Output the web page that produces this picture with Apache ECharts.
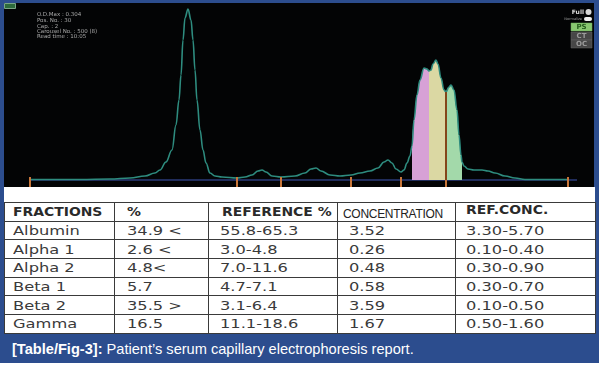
<!DOCTYPE html>
<html><head><meta charset="utf-8">
<script src="https://cdn.jsdelivr.net/npm/echarts@6/dist/echarts.min.js"></script>
<style>
html,body{margin:0;padding:0;background:#fff;}
#page{position:relative;width:599px;height:367px;overflow:hidden;background:#fff;}
#frame{position:absolute;left:0;top:0;width:599px;height:363px;background:#2c4d8e;}
#chart{position:absolute;left:4px;top:3px;width:590px;height:184px;background:#030405;}
#panel{position:absolute;left:4px;top:187px;width:591px;height:146px;background:#fff;}
#tbl{position:absolute;left:4px;top:202px;border-collapse:collapse;table-layout:fixed;width:591px;}
#tbl tr{height:18.7px;}
#tbl td{border:1.5px solid #3a3a3a;padding:0;height:16px;line-height:14px;vertical-align:middle;white-space:nowrap;overflow:hidden;color:#3a3a3a;}
#tbl td span{display:inline-block;transform-origin:0 50%;line-height:14px;}
#tbl tr.h td span{font:bold 12px 'DejaVu Sans',sans-serif;transform:scaleX(1.16);color:#2a2a2a;}
#tbl tr.h td span.cn{font:12px 'Liberation Sans',Arial,sans-serif;transform:none;color:#222;position:relative;top:2px;letter-spacing:-0.3px;}
#tbl tr.h td span.rc{position:relative;top:-2px;}
#tbl tr.d td span{font:13px 'DejaVu Sans',sans-serif;transform:scaleX(1.25);}
#caption{position:absolute;left:12px;top:341px;color:#fff;font:14.6px 'Liberation Sans',Arial,sans-serif;line-height:16px;white-space:nowrap;}
</style></head>
<body>
<div id="page">
  <div id="frame"></div>
  <div id="chart"></div>
  <div id="panel"></div>
  <table id="tbl"></table>
  <div id="caption"></div>
</div>
<script>
// ---- data ----
const headers = ['FRACTIONS','%','REFERENCE %','CONCENTRATION','REF.CONC.'];
const fractions = ['Albumin','Alpha 1','Alpha 2','Beta 1','Beta 2','Gamma'];
const percent = ['34.9 <','2.6 <','4.8<','5.7','35.5 >','16.5'];
const refPercent = ['55.8-65.3','3.0-4.8','7.0-11.6','4.7-7.1','3.1-6.4','11.1-18.6'];
const concentration = ['3.52','0.26','0.48','0.58','3.59','1.67'];
const refConc = ['3.30-5.70','0.10-0.40','0.30-0.90','0.30-0.70','0.10-0.50','0.50-1.60'];
const captionBold = '[Table/Fig-3]:';
const captionText = ' Patient\u2019s serum capillary electrophoresis report.';
const infoLines = ['O.D.Max : 0.304','Pos. No. : 30','Cap. : 2','Carousel No. : 500 (8)','Read time : 10:05'];

// electropherogram trace (scan position, relative absorbance)
const scanPos = [30,80,110,130,145,155,160,166,172,176,179,181,183,185,188,191,193,195,197,200,203,206,210,215,222,237,245,252,258,262,266,272,281,295,305,311,316,321,330,340,351,360,370,378,384,388,392,396,401,404,407,410,412,414,417,420,424,427,429,431,433,436,438,441,444,446,449,451,454,457,459,461,462,464,468,474,482,488,495,505,515,525,568];
const absorbance = [0.5,0.5,1,2,4,7,10,18,30,55,80,105,140,162,171,160,140,110,80,50,30,17,7,4,3,2,3,5,9,10,8,4,3,4,7,11,12,9,5,4,5,7,9,12,18,20,17,11,8,10,17,24,34,60,85,100,112,111,109,110,116,120,116,102,90,88,93,95,90,70,45,25,18,14,11,10,10,9,7,4,2,0.5,0.5];
// fraction delimiters (scan position) and their marker heights
const delimiters = [30,237,281,351,401,446,568];
const delimiterTop = [3,3,3,3,3,88,3];
// highlighted zones
const zoneRanges = [[412,429],[429,446],[446,462]];
const zoneColors = ['#d7a1d6','#dbd8a3','#a3d9aa'];
const baselineRange = [30,577];

// ---- table ----
const tbl = document.getElementById('tbl');
const colW = [110,94,129,118,140];
const padL = [8,12,13,5,10];
const padLD = [8,12,11,11,10];
let html = '<colgroup>' + colW.map(w=>'<col style="width:'+w+'px">').join('') + '</colgroup>';
html += '<tr class="h">' + headers.map((h,i)=>'<td style="padding-left:'+padL[i]+'px"><span'+(i===3?' class="cn"':(i===4?' class="rc"':''))+'>'+h+'</span></td>').join('') + '</tr>';
for (let r=0;r<fractions.length;r++){
  const row=[fractions[r],percent[r],refPercent[r],concentration[r],refConc[r]];
  html += '<tr class="d">' + row.map((v,i)=>'<td style="padding-left:'+padLD[i]+'px"><span>'+v.replace(/</g,'&lt;').replace(/>/g,'&gt;')+'</span></td>').join('') + '</tr>';
}
tbl.innerHTML = html;
document.getElementById('caption').innerHTML = '<b>'+captionBold+'</b>'+captionText;

// ---- chart ----
const trace = scanPos.map((x,i)=>[x,absorbance[i]]);
const chart = echarts.init(document.getElementById('chart'), null, {renderer:'canvas'});
const zoneSeries = zoneRanges.map((rg,k)=>({
  type:'line', data: trace.filter(p=>p[0]>=rg[0]&&p[0]<=rg[1]),
  smooth:0.4, smoothMonotone:'x', showSymbol:false, silent:true, z:2,
  lineStyle:{width:0}, areaStyle:{color:zoneColors[k], opacity:1}
}));
const graphics = [
  {type:'rect', shape:{x:0.5,y:0.5,width:11,height:5}, style:{fill:'#2d6a3c',stroke:'#79a585',lineWidth:1}},
  ...infoLines.map((t,i)=>({type:'text', x:33, y:[12,18,24,29,34][i], style:{text:t, fill:'#a9a9a9', font:'5.5px "DejaVu Sans"', verticalAlign:'middle'}})),
  {type:'text', x:580, y:9, style:{text:'Full', fill:'#dddddd', font:'bold 6px "DejaVu Sans"', align:'right', verticalAlign:'middle'}},
  {type:'circle', shape:{cx:584.5,cy:9,r:3}, style:{fill:'#d8d8d8'}},
  {type:'text', x:578, y:16, style:{text:'Normalize', fill:'#9a9a9a', font:'3.5px "DejaVu Sans"', align:'right', verticalAlign:'middle'}},
  {type:'rect', shape:{x:580,y:14,width:8,height:4,r:2}, style:{fill:'#f0f0f0'}},
  {type:'rect', shape:{x:567,y:20,width:21,height:8}, style:{fill:'#88c770',stroke:'#6aa858',lineWidth:0.5}},
  {type:'text', x:577.5, y:24, style:{text:'PS', fill:'#235c1c', font:'bold 7px "DejaVu Sans"', align:'center', verticalAlign:'middle'}},
  {type:'rect', shape:{x:567,y:29,width:21,height:8}, style:{fill:'#474747',stroke:'#666',lineWidth:0.5}},
  {type:'text', x:577.5, y:33, style:{text:'CT', fill:'#9c9c9c', font:'bold 7px "DejaVu Sans"', align:'center', verticalAlign:'middle'}},
  {type:'rect', shape:{x:567,y:37,width:21,height:8}, style:{fill:'#474747',stroke:'#666',lineWidth:0.5}},
  {type:'text', x:577.5, y:41, style:{text:'OC', fill:'#9c9c9c', font:'bold 7px "DejaVu Sans"', align:'center', verticalAlign:'middle'}}
];
chart.setOption({
  animation:false,
  backgroundColor:'#030405',
  grid:{left:0,right:0,top:0,bottom:0},
  xAxis:{type:'value', min:4, max:594, show:false},
  yAxis:{type:'value', min:-7, max:177, show:false},
  graphic: graphics,
  series:[
    {type:'line', data:[[baselineRange[0],0],[baselineRange[1],0]], showSymbol:false, silent:true, z:1,
     lineStyle:{color:'#2b3a78', width:1.5}},
    ...zoneSeries,
    {type:'line', data:trace, smooth:0.4, smoothMonotone:'x', showSymbol:false, silent:true, z:4,
     lineStyle:{color:'#2e8c7f', width:1.6}},
    {type:'custom', data: delimiters.map((x,i)=>[x,delimiterTop[i]]), z:5, silent:true,
     encode:{x:0,y:1},
     renderItem:function(params, api){
       const x = api.value(0), t = api.value(1);
       const b = api.coord([x,-7]), m = api.coord([x, Math.min(t,3)]);
       const children = [{type:'line', shape:{x1:b[0],y1:b[1],x2:m[0],y2:m[1]}, style:{stroke:'#c8763a', lineWidth:2}}];
       if (t>3){
         const z0 = api.coord([x,0]), tp = api.coord([x,t]);
         children.push({type:'line', shape:{x1:z0[0],y1:z0[1],x2:tp[0],y2:tp[1]}, style:{stroke:'#84461a', lineWidth:2}});
       }
       return {type:'group', children:children};
     }}
  ]
});
</script>
</body></html>
